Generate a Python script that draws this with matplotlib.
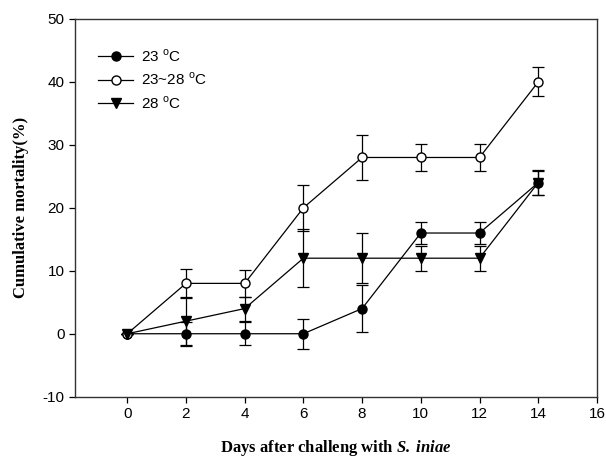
"""Cumulative mortality after S. iniae challenge at three temperatures."""

import matplotlib

matplotlib.use("Agg")
import matplotlib.pyplot as plt

plt.rcParams["font.family"] = ["Liberation Sans", "DejaVu Sans"]
plt.rcParams["axes.unicode_minus"] = False
plt.rcParams["mathtext.fontset"] = "custom"
plt.rcParams["mathtext.rm"] = "Liberation Sans"
plt.rcParams["mathtext.bfit"] = "Liberation Serif:italic:bold"

days = [0, 2, 4, 6, 8, 10, 12, 14]

mort_23 = [0, 0, 0, 0, 4, 16, 16, 24]
err_23 = [0, 1.8, 1.8, 2.4, 3.7, 1.8, 1.8, 1.9]

mort_23_28 = [0, 8, 8, 20, 28, 28, 28, 40]
err_23_28 = [0, 2.3, 2.2, 3.6, 3.5, 2.2, 2.2, 2.3]

mort_28 = [0, 2, 4, 12, 12, 12, 12, 24]
err_28 = [0, 3.9, 1.9, 4.6, 4.0, 2.0, 2.0, 2.0]

labels = ["23 $^\\mathrm{o}$C", "23~28 $^\\mathrm{o}$C", "28 $^\\mathrm{o}$C"]

fig = plt.figure(figsize=(6.06, 4.61), dpi=100)
ax = fig.add_axes([0.1238, 0.1395, 0.8612, 0.8193])

style = dict(color="black", lw=0.9, ms=6.5, capsize=4.5, elinewidth=0.9,
             capthick=0.9, mec="black")
ax.errorbar(days, mort_23, yerr=err_23, fmt="-o", mfc="black",
            label=labels[0], **style)
ax.errorbar(days, mort_23_28, yerr=err_23_28, fmt="-o", mfc="white",
            label=labels[1], **style)
ax.errorbar(days, mort_28, yerr=err_28, fmt="-v", mfc="black",
            label=labels[2], **style)

ax.set_xlim(-1.78, 16)
ax.set_ylim(-10, 50)
ax.set_xticks(range(0, 17, 2))
ax.set_yticks(range(-10, 51, 10))
ax.tick_params(direction="out", length=4, width=0.9, labelsize=11,
               colors="black")
for s in ax.spines.values():
    s.set_color("#333333")
    s.set_linewidth(1.0)

ax.set_xlabel("Days after challeng with $\\mathbfit{S.}\\,\\mathbfit{iniae}$",
              family="Liberation Serif", fontweight="bold", fontsize=12,
              labelpad=12)
ax.set_ylabel("Cumulative mortality(%)", family="Liberation Serif",
              fontweight="bold", fontsize=12, labelpad=10)

handles, labs = ax.get_legend_handles_labels()
handles = [h[0] for h in handles]
ax.legend(handles, labs, loc="upper left", frameon=False, fontsize=11,
          handlelength=2.3, handletextpad=0.5, labelspacing=0.45,
          bbox_to_anchor=(0.0, 0.985), borderaxespad=1.1)

fig.savefig("out.png", dpi=100)
